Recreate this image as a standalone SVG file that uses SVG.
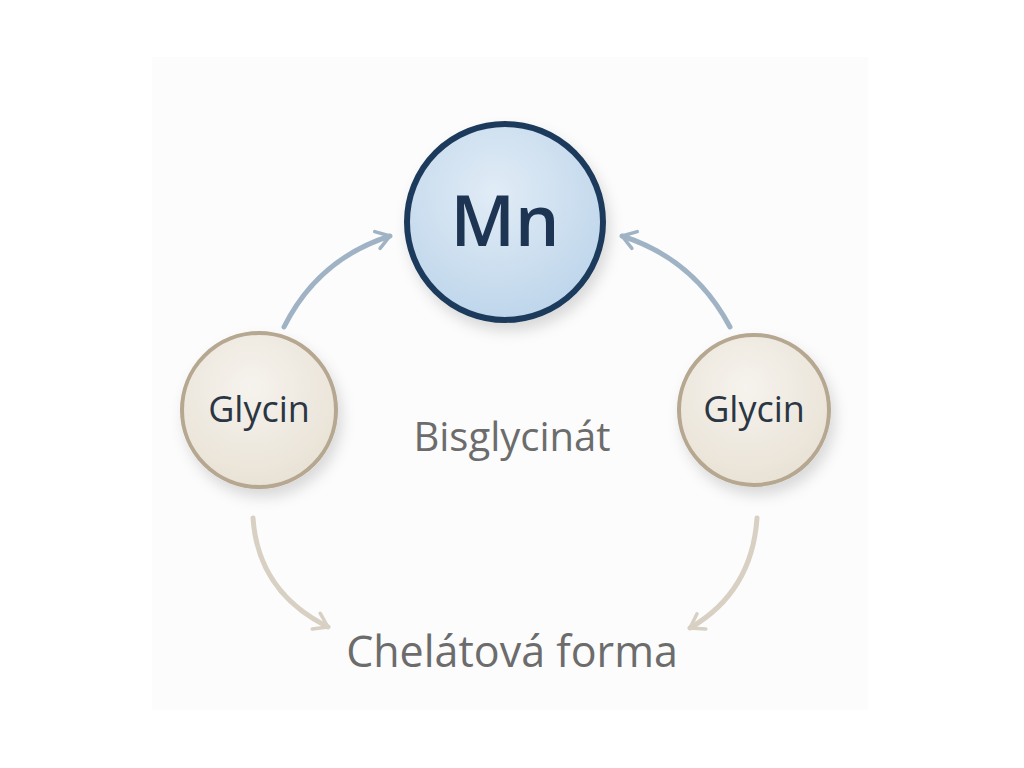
<svg xmlns="http://www.w3.org/2000/svg" width="1024" height="768" viewBox="0 0 1024 768">
<defs>
<radialGradient id="gMn" cx="0.45" cy="0.35" r="0.7">
<stop offset="0" stop-color="#e1ecf6"/>
<stop offset="1" stop-color="#bcd4ea"/>
</radialGradient>
<radialGradient id="gGly" cx="0.45" cy="0.35" r="0.7">
<stop offset="0" stop-color="#f6f3ee"/>
<stop offset="1" stop-color="#e8e1d4"/>
</radialGradient>
<filter id="sh" x="-30%" y="-30%" width="160%" height="170%">
<feDropShadow dx="4" dy="8" stdDeviation="7" flood-color="#000" flood-opacity="0.14"/>
</filter>
<marker id="aBlue" viewBox="0 0 10 10" refX="7" refY="5" markerWidth="4.4" markerHeight="4.4" orient="auto" markerUnits="strokeWidth">
<path d="M1,1 L7,5 L1,9" fill="none" stroke="#9fb3c5" stroke-width="1.6" stroke-linecap="round" stroke-linejoin="round"/>
</marker>
<marker id="aBeige" viewBox="0 0 10 10" refX="7" refY="5" markerWidth="4.4" markerHeight="4.4" orient="auto" markerUnits="strokeWidth">
<path d="M1,1 L7,5 L1,9" fill="none" stroke="#d8d0c3" stroke-width="1.6" stroke-linecap="round" stroke-linejoin="round"/>
</marker>
</defs>
<style>
.lbl{font-family:"Open Sans","Noto Sans",sans-serif;}
.blue{fill:none;stroke:#9fb3c5;stroke-width:5;stroke-linecap:round;marker-end:url(#aBlue);}
.beige{fill:none;stroke:#d8d0c3;stroke-width:5;stroke-linecap:round;marker-end:url(#aBeige);}
.gly{fill:url(#gGly);stroke:#b6a790;stroke-width:4;filter:url(#sh);}
.glyt{font-size:36px;fill:#2b3643;text-anchor:middle;}
.cap{fill:#6c6c6c;text-anchor:middle;}
</style>
<rect width="1024" height="768" fill="#ffffff"/>
<rect x="152" y="57" width="716" height="653" fill="#fcfcfc"/>
<g id="connectors">
<path class="blue" d="M284,327 Q318,259 390,236"/>
<path class="blue" d="M730,327 Q694,259 622,236"/>
<path class="beige" d="M253,518 Q258,592 328,627"/>
<path class="beige" d="M757,518 Q752,592 690,628"/>
</g>
<g id="mn">
<circle cx="505" cy="222" r="98" fill="url(#gMn)" stroke="#1f3b5c" stroke-width="6" filter="url(#sh)"/>
<text class="lbl" x="505" y="246" font-size="70" font-weight="600" fill="#1d3452" text-anchor="middle">Mn</text>
</g>
<g id="glycin-left">
<circle class="gly" cx="259" cy="410" r="77"/>
<text class="lbl glyt" x="259" y="422">Glycin</text>
</g>
<g id="glycin-right">
<circle class="gly" cx="754" cy="410" r="75"/>
<text class="lbl glyt" x="754" y="422">Glycin</text>
</g>
<g id="bisglycinat">
<text class="lbl cap" x="512" y="451" font-size="40">Bisglycinát</text>
</g>
<g id="chelatova-forma">
<text class="lbl cap" x="512" y="667" font-size="43">Chelátová forma</text>
</g>
</svg>
